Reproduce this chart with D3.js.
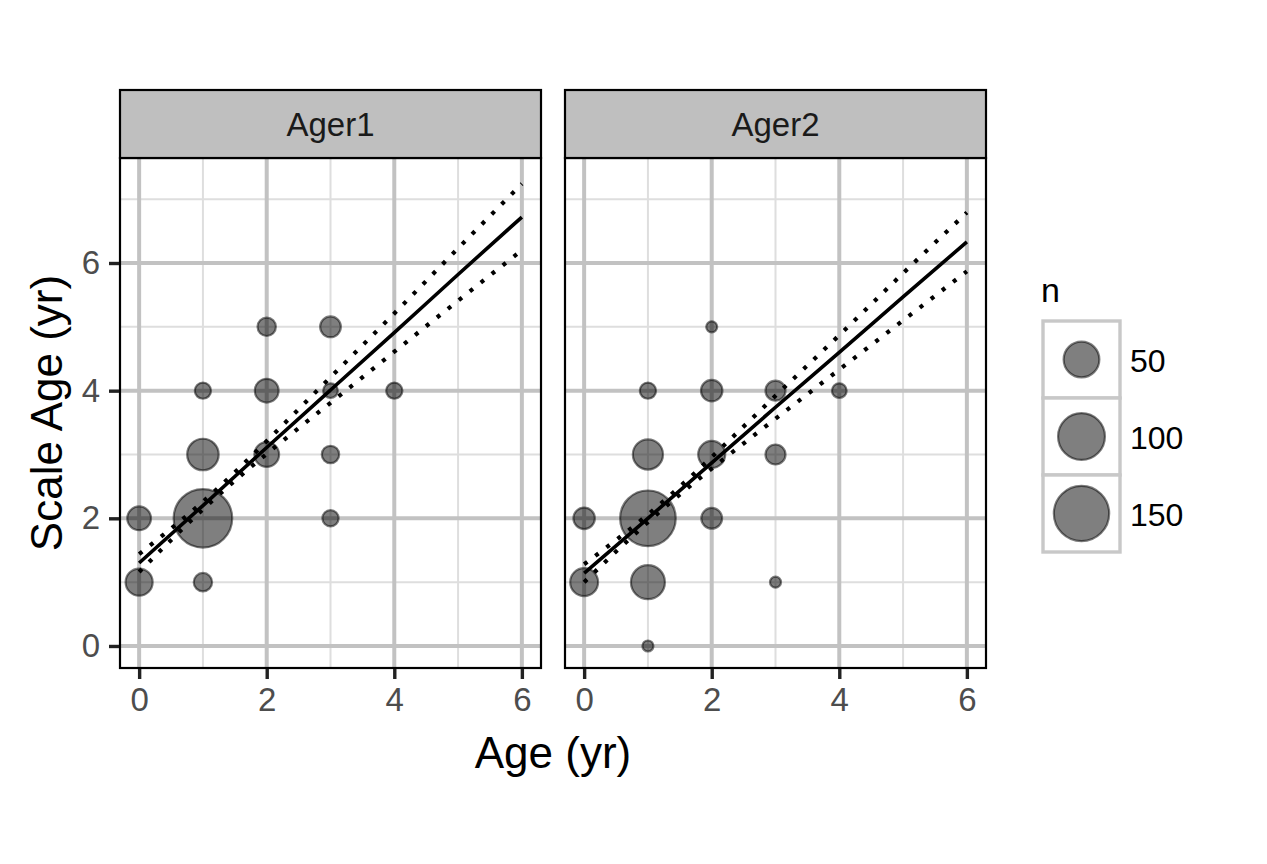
<!DOCTYPE html>
<html>
<head>
<meta charset="utf-8">
<script src="https://cdn.jsdelivr.net/npm/d3@7"></script>
<style>
  html, body { margin: 0; padding: 0; background: #ffffff; }
  svg { display: block; font-family: "Liberation Sans", Arial, Helvetica, sans-serif; }
</style>
</head>
<body>
<svg id="chart" width="1267" height="864"></svg>
<script>
// ---------------- data ----------------
const panels = ["Ager1", "Ager2"];
const xTicks = [0, 2, 4, 6];
const yTicks = [0, 2, 4, 6];
const xMinor = [1, 3, 5];
const yMinor = [1, 3, 5, 7];

// points: [Age, Scale Age, n]
const ager1Points = [
  [0, 1, 24], [0, 2, 17],
  [1, 1, 9], [1, 2, 172], [1, 3, 36], [1, 4, 7],
  [2, 3, 19], [2, 4, 17], [2, 5, 9],
  [3, 2, 7], [3, 3, 8], [3, 4, 6], [3, 5, 12],
  [4, 4, 7]
];
const ager2Points = [
  [0, 1, 26], [0, 2, 13],
  [1, 0, 5], [1, 1, 44], [1, 2, 152], [1, 3, 32], [1, 4, 7],
  [2, 2, 12], [2, 3, 24], [2, 4, 13], [2, 5, 5],
  [3, 1, 5], [3, 3, 11], [3, 4, 11],
  [4, 4, 6]
];

// regression fit and dotted bands read at Age = 0..6
const lineAges = [0, 1, 2, 3, 4, 5, 6];
const ager1Fit   = [1.30, 2.20, 3.11, 4.01, 4.91, 5.82, 6.72];
const ager1Upper = [1.44, 2.26, 3.21, 4.21, 5.21, 6.23, 7.24];
const ager1Lower = [1.16, 2.14, 3.01, 3.81, 4.61, 5.41, 6.20];
const ager2Fit   = [1.14, 2.00, 2.87, 3.74, 4.60, 5.47, 6.33];
const ager2Upper = [1.28, 2.06, 2.96, 3.92, 4.87, 5.84, 6.79];
const ager2Lower = [1.00, 1.94, 2.78, 3.56, 4.33, 5.10, 5.87];

const legendValues = [50, 100, 150];
const nLimits = [5, 175];

// ---------------- layout ----------------
const svg = d3.select("#chart");
const panelBoxes = [
  { x0: 120, x1: 541 },
  { x0: 565, x1: 986 }
];
const panelTop = 158, panelBottom = 668, stripTop = 90;

const y = d3.scaleLinear().domain([-0.345, 7.645]).range([panelBottom, panelTop]);
const nNorm = d3.scaleLinear().domain(nLimits).range([0, 1]).clamp(true);
const rLin = d3.scaleLinear().domain([0, 1]).range([5.5, 29.5]);
const radius = n => rLin(Math.sqrt(nNorm(n)));

const panelData = [
  { name: panels[0], pts: ager1Points, fit: ager1Fit, up: ager1Upper, lo: ager1Lower },
  { name: panels[1], pts: ager2Points, fit: ager2Fit, up: ager2Upper, lo: ager2Lower }
];

const majorCol = "#c2c2c2", minorCol = "#dedede";
const ptFill = "rgba(0,0,0,0.5)", ptStroke = "rgba(0,0,0,0.5)";
const tickFont = 33;

panelData.forEach((pd, i) => {
  const box = panelBoxes[i];
  const x = d3.scaleLinear().domain([-0.3, 6.3]).range([box.x0, box.x1]);
  const g = svg.append("g");

  const clipId = "clip" + i;
  svg.append("clipPath").attr("id", clipId).append("rect")
    .attr("x", box.x0).attr("y", panelTop).attr("width", box.x1 - box.x0).attr("height", panelBottom - panelTop);

  const inner = g.append("g").attr("clip-path", `url(#${clipId})`);
  // minor grid
  inner.selectAll(".vminor").data(xMinor).join("line")
    .attr("x1", d => x(d)).attr("x2", d => x(d)).attr("y1", panelTop).attr("y2", panelBottom)
    .attr("stroke", minorCol).attr("stroke-width", 2);
  inner.selectAll(".hminor").data(yMinor).join("line")
    .attr("x1", box.x0).attr("x2", box.x1).attr("y1", d => y(d)).attr("y2", d => y(d))
    .attr("stroke", minorCol).attr("stroke-width", 2);
  // major grid
  inner.selectAll(".vmajor").data(xTicks).join("line")
    .attr("x1", d => x(d)).attr("x2", d => x(d)).attr("y1", panelTop).attr("y2", panelBottom)
    .attr("stroke", majorCol).attr("stroke-width", 4);
  inner.selectAll(".hmajor").data(yTicks).join("line")
    .attr("x1", box.x0).attr("x2", box.x1).attr("y1", d => y(d)).attr("y2", d => y(d))
    .attr("stroke", majorCol).attr("stroke-width", 4);

  // points
  inner.selectAll("circle.pt").data(pd.pts).join("circle")
    .attr("cx", d => x(d[0])).attr("cy", d => y(d[1])).attr("r", d => radius(d[2]))
    .attr("fill", ptFill).attr("stroke", ptStroke).attr("stroke-width", 2.2);

  // lines
  const mk = vals => d3.line().x((d, k) => x(lineAges[k])).y(d => y(d)).curve(d3.curveNatural)(vals);
  inner.append("path").attr("d", mk(pd.fit)).attr("fill", "none")
    .attr("stroke", "#000").attr("stroke-width", 3.6);
  [pd.up, pd.lo].forEach(v => {
    inner.append("path").attr("d", mk(v)).attr("fill", "none")
      .attr("stroke", "#000").attr("stroke-width", 4.2).attr("stroke-dasharray", "4 10");
  });

  // panel border
  g.append("rect").attr("x", box.x0).attr("y", panelTop).attr("width", box.x1 - box.x0)
    .attr("height", panelBottom - panelTop).attr("fill", "none").attr("stroke", "#000").attr("stroke-width", 2.2);

  // strip
  g.append("rect").attr("x", box.x0).attr("y", stripTop).attr("width", box.x1 - box.x0)
    .attr("height", panelTop - stripTop).attr("fill", "#bfbfbf").attr("stroke", "#000").attr("stroke-width", 2.2);
  g.append("text").attr("x", (box.x0 + box.x1) / 2).attr("y", (stripTop + panelTop) / 2 + 12)
    .attr("text-anchor", "middle").attr("font-size", 33).attr("fill", "#1a1a1a").text(pd.name);

  // x axis
  const xAxis = d3.axisBottom(x).tickValues(xTicks).tickSize(10).tickPadding(9).tickFormat(d3.format("d"));
  const xa = g.append("g").attr("transform", `translate(0,${panelBottom + 1})`).call(xAxis);
  xa.select(".domain").remove();
  xa.selectAll(".tick line").attr("stroke", "#222").attr("stroke-width", 3.4);
  xa.selectAll(".tick text").attr("font-size", tickFont).attr("fill", "#4d4d4d")
    .attr("font-family", "'Liberation Sans', Arial, sans-serif");

  if (i === 0) {
    const yAxis = d3.axisLeft(y).tickValues(yTicks).tickSize(10).tickPadding(9).tickFormat(d3.format("d"));
    const ya = g.append("g").attr("transform", `translate(${box.x0 - 1},0)`).call(yAxis);
    ya.select(".domain").remove();
    ya.selectAll(".tick line").attr("stroke", "#222").attr("stroke-width", 3.4);
    ya.selectAll(".tick text").attr("font-size", tickFont).attr("fill", "#4d4d4d")
      .attr("font-family", "'Liberation Sans', Arial, sans-serif");
  }
});

// axis titles
svg.append("text").attr("x", (panelBoxes[0].x0 + panelBoxes[1].x1) / 2).attr("y", 768)
  .attr("text-anchor", "middle").attr("font-size", 44).attr("fill", "#000").text("Age (yr)");
svg.append("text").attr("transform", `translate(62,${(panelTop + panelBottom) / 2}) rotate(-90)`)
  .attr("text-anchor", "middle").attr("font-size", 44).attr("fill", "#000").text("Scale Age (yr)");

// legend
const lg = svg.append("g");
lg.append("text").attr("x", 1041).attr("y", 302).attr("font-size", 34).attr("fill", "#000").text("n");
const keyTop = 321, keyH = 77, keyX = 1043, keyW = 77;
legendValues.forEach((v, k) => {
  const ky = keyTop + k * keyH;
  lg.append("rect").attr("x", keyX).attr("y", ky).attr("width", keyW).attr("height", keyH)
    .attr("fill", "#fff").attr("stroke", "#c8c8c8").attr("stroke-width", 3.4);
  lg.append("circle").attr("cx", keyX + keyW / 2).attr("cy", ky + keyH / 2).attr("r", radius(v))
    .attr("fill", ptFill).attr("stroke", ptStroke).attr("stroke-width", 2.2);
  lg.append("text").attr("x", keyX + keyW + 10).attr("y", ky + keyH / 2 + 12)
    .attr("font-size", 32).attr("fill", "#000").text(v);
});
</script>
</body>
</html>
